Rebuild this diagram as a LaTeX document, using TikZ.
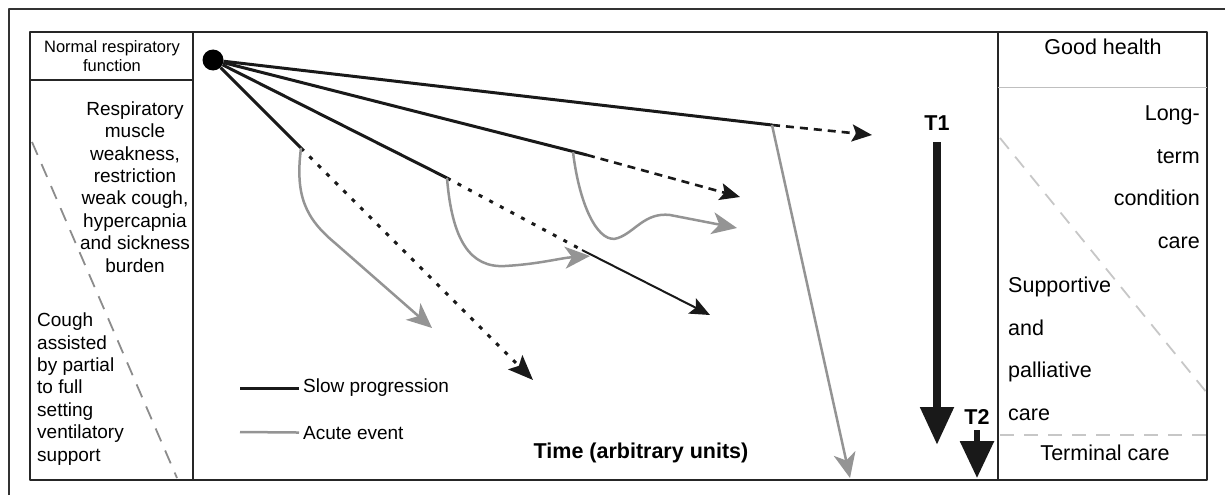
\documentclass[tikz,border=0pt]{standalone}
\usepackage{fontspec}
\setmainfont{Liberation Sans}
\usetikzlibrary{arrows.meta}

\begin{document}
\begin{tikzpicture}[x=1pt, y=-1pt, line join=round,
    every node/.style={inner sep=0pt},
    frame/.style={line width=1.6pt, black!85},
    slow/.style={line width=3pt, black!90},
    acute/.style={line width=2.5pt, black!42},
    ghead/.style={-{Stealth[length=25pt,width=22pt,inset=7pt]}},
    bhead/.style={-{Stealth[length=20pt,width=17pt,inset=4pt]}},
    trend/.style={line width=2.6pt, black!90, dash pattern=on 8pt off 6pt},
    dotline/.style={line width=3pt, black!90, dash pattern=on 4pt off 8pt},
    zone/.style={line width=1.8pt, dash pattern=on 14pt off 10pt},
    bigarrow/.style={black!90, -{Triangle[length=38pt,width=32pt]}},
    lbl/.style={font=\fontsize{19}{22.4}\selectfont},
    care/.style={font=\fontsize{21.5}{42.5}\selectfont}]
\useasboundingbox (0,0) rectangle (1225,495);

% frames
\draw[line width=2pt, black!80] (9,495) -- (9,9) -- (1225,9);
\draw[frame] (30,32) rectangle (1207,480);
\draw[frame] (193,32) -- (193,480);
\draw[frame] (998,32) -- (998,480);
\draw[frame] (30,80) -- (193,80);
\draw[line width=1pt, black!25] (998,87) -- (1207,87);
\draw[zone, black!22] (1000,435) -- (1207,435);
\draw[zone, black!45] (32,142) -- (177,478);
\draw[zone, black!22] (1000,138) -- (1207,393);

% left column
\node[font=\fontsize{16.5}{18.5}\selectfont, align=center] (normal) at (112,56) {Normal respiratory\\function};
\node[lbl, align=center] (resp) at (135,187) {Respiratory\\muscle\\weakness,\\restriction\\weak cough,\\hypercapnia\\and sickness\\burden};
\node[lbl, anchor=west, align=left] (cough) at (37,389) {Cough\\assisted\\by partial\\to full\\setting\\ventilatory\\support};

% right column
\node[care] (good) at (1103,47) {Good health};
\node[care, anchor=east, align=right] (ltc) at (1200,177) {Long-\\term\\condition\\care};
\node[care, anchor=west, align=left] (spc) at (1008,349) {Supportive\\and\\palliative\\care};
\node[care] (term) at (1105,453) {Terminal care};

% trajectories
\node[circle, fill=black, minimum size=21pt] (o) at (213,60) {};
\coordinate (p1) at (772,125);
\coordinate (p2) at (587,155);
\coordinate (p2g) at (573,152);
\coordinate (p3) at (447,178);
\coordinate (p3m) at (582,250);
\coordinate (p4) at (301,148);
\coordinate (e1) at (872,135);
\coordinate (e2) at (740,197);
\coordinate (e3) at (710,315);
\coordinate (e4) at (533,380);
\coordinate (g1) at (850,478);
\coordinate (g2) at (737,228);
\coordinate (g3) at (590,256);
\coordinate (g4) at (432,328);

\draw[slow] (o) -- (p1);
\draw[slow] (o) -- (p2);
\draw[slow] (o) -- (p3);
\draw[slow] (o) -- (p4);
\draw[trend, bhead] (p1) -- (e1);
\draw[trend, bhead] (p2) -- (e2);
\draw[dotline] (p3) -- (p3m);
\draw[line width=2pt, black!90, bhead] (p3m) -- (e3);
\draw[dotline, -{Stealth[length=25pt,width=20pt,inset=5pt]}] (p4) -- (e4);

\draw[acute, ghead] (p1) -- (g1);
\draw[acute, ghead] (p2g) .. controls (580,210) and (600,245) .. (618,238)
  .. controls (635,232) and (645,212) .. (670,215) -- (g2);
\draw[acute, ghead] (p3) .. controls (452,240) and (470,268) .. (505,266)
  .. controls (540,264) and (560,258) .. (g3);
\draw[acute, ghead] (p4) .. controls (295,195) and (305,218) .. (335,243) -- (g4);

% legend
\coordinate (ls) at (240,388);
\coordinate (la) at (240,432);
\node[lbl, anchor=west] (slowlbl) at (303,388) {Slow progression};
\node[lbl, anchor=west] (acutelbl) at (303,433) {Acute event};
\draw[slow, shorten >=4pt] (ls) -- (slowlbl);
\draw[acute, shorten >=4pt] (la) -- (acutelbl);
\node[font=\bfseries\fontsize{21.5}{24}\selectfont] (time) at (641,453) {Time (arbitrary units)};

% T1, T2
\node[font=\bfseries\fontsize{21.5}{24}\selectfont] (T1) at (937,123) {T1};
\node[font=\bfseries\fontsize{21.5}{24}\selectfont] (T2) at (977,417) {T2};
\coordinate (t1a) at (937,142);
\coordinate (t1b) at (937,445);
\coordinate (t2a) at (977,430);
\coordinate (t2b) at (977,478);
\draw[bigarrow, line width=8pt] (t1a) -- (t1b);
\draw[bigarrow, line width=6pt, -{Triangle[length=37pt,width=33pt]}] (t2a) -- (t2b);
\end{tikzpicture}
\end{document}
